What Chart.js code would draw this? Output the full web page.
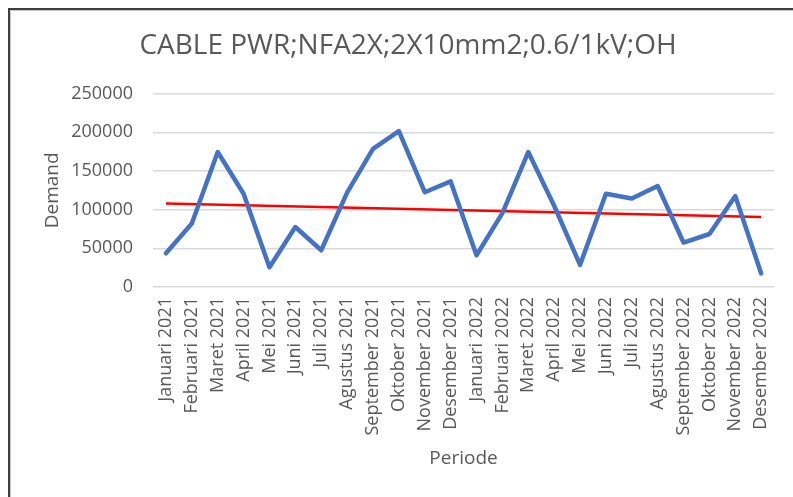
<!DOCTYPE html>
<html>
<head>
<meta charset="utf-8">
<script src="https://cdn.jsdelivr.net/npm/chart.js@4"></script>
<style>
    body { margin: 0; background: #fff; }
    #wrap { position: relative; width: 793px; height: 497px; }
    #frame {
        position: absolute; left: 8px; top: 8px; right: -10px; bottom: -10px;
        border-left: 2px solid #3f3f3f; border-top: 2px solid #3f3f3f;
        box-shadow: inset 1px 1px 0 #c8c8c8;
        pointer-events: none;
    }
</style>
</head>
<body>
<div id="wrap">
    <canvas id="demandChart"></canvas>
    <div id="frame"></div>
</div>
<script>
const chartTitle = 'CABLE PWR;NFA2X;2X10mm2;0.6/1kV;OH';

const periods = [
    'Januari 2021', 'Februari 2021', 'Maret 2021', 'April 2021', 'Mei 2021', 'Juni 2021',
    'Juli 2021', 'Agustus 2021', 'September 2021', 'Oktober 2021', 'November 2021', 'Desember 2021',
    'Januari 2022', 'Februari 2022', 'Maret 2022', 'April 2022', 'Mei 2022', 'Juni 2022',
    'Juli 2022', 'Agustus 2022', 'September 2022', 'Oktober 2022', 'November 2022', 'Desember 2022'
];

const demand = [
    43500, 82000, 174500, 120500, 25500, 77500,
    47500, 122000, 178500, 201500, 122500, 136500,
    41000, 95500, 174500, 105000, 28500, 120500,
    114500, 130500, 57500, 68500, 117500, 17500
];

const trend = [107800, null, null, null, null, null, null, null, null, null, null, null,
    null, null, null, null, null, null, null, null, null, null, null, 90600];

const yTicks = [0, 50000, 100000, 150000, 200000, 250000];

const grey = '#595959';
const fontFamily = "'Open Sans', sans-serif";

const ctx = document.getElementById('demandChart').getContext('2d');

new Chart(ctx, {
    type: 'line',
    data: {
        labels: periods,
        datasets: [{
            label: 'Demand',
            data: demand,
            borderColor: '#4472C4',
            borderWidth: 4.5,
            borderCapStyle: 'round',
            borderJoinStyle: 'round',
            pointRadius: 0,
            tension: 0,
            fill: false
        }, {
            label: 'Trend',
            data: trend,
            borderColor: '#FF0000',
            borderWidth: 2.5,
            pointRadius: 0,
            spanGaps: true,
            fill: false
        }]
    },
    options: {
        responsive: true,
        maintainAspectRatio: false,
        animation: false,
        layout: { padding: { left: 33, right: 10, top: 0, bottom: 0 } },
        plugins: {
            legend: { display: false },
            tooltip: { enabled: false },
            title: {
                display: true,
                text: chartTitle,
                color: grey,
                font: { family: fontFamily, size: 28, weight: 'normal' },
                padding: { top: 29, bottom: 31 }
            }
        },
        scales: {
            x: {
                offset: true,
                grid: { display: false, drawTicks: false },
                border: { display: false },
                ticks: {
                    autoSkip: false,
                    maxRotation: 90,
                    minRotation: 90,
                    padding: 10,
                    color: grey,
                    font: { family: fontFamily, size: 18 }
                },
                title: {
                    display: true,
                    text: 'Periode',
                    color: grey,
                    font: { family: fontFamily, size: 19 },
                    padding: { top: 0, bottom: 27 }
                },
                afterFit: function (scale) { scale.height = 210; }
            },
            y: {
                min: 0,
                max: 250000,
                afterBuildTicks: function (scale) {
                    scale.ticks = yTicks.map(v => ({ value: v }));
                },
                grid: { color: '#d9d9d9', lineWidth: 1.5, drawTicks: false },
                border: { display: false },
                ticks: {
                    padding: 20,
                    color: grey,
                    font: { family: fontFamily, size: 18 },
                    callback: function (value) { return String(value); }
                },
                title: {
                    display: true,
                    text: 'Demand',
                    color: grey,
                    font: { family: fontFamily, size: 19 },
                    padding: { top: 8, bottom: 0 }
                },
                afterFit: function (scale) { scale.width = 120; }
            }
        }
    }
});
</script>
</body>
</html>
